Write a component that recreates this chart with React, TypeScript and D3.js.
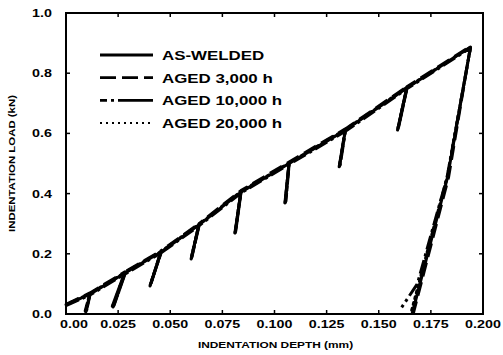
import * as d3 from "d3";

// axis ticks
const xTicks = [0, 0.025, 0.05, 0.075, 0.1, 0.125, 0.15, 0.175, 0.2];
const xTickLabels = ["0.00", "0.025", "0.050", "0.075", "0.100", "0.125", "0.150", "0.175", "0.200"];
const yTicks = [0, 0.2, 0.4, 0.6, 0.8, 1.0];
const yTickLabels = ["0.0", "0.2", "0.4", "0.6", "0.8", "1.0"];

// loading peaks (depth mm, load kN)
const peakDepth = [0.0115, 0.0283, 0.0456, 0.0638, 0.0839, 0.107, 0.134, 0.1635, 0.194];

const asWeldedPeak = [0.066, 0.136, 0.206, 0.296, 0.405, 0.5, 0.611, 0.751, 0.887];
const asWeldedValleyDepth = [0.0095, 0.0226, 0.0403, 0.06, 0.081, 0.105, 0.131, 0.159];
const asWeldedValleyLoad = [0.007, 0.023, 0.093, 0.183, 0.269, 0.369, 0.489, 0.611];
const asWeldedFinalDepth = [0.183, 0.166];
const asWeldedFinalLoad = [0.455, 0.0];

const aged3kPeak = [0.07, 0.14, 0.21, 0.3, 0.41, 0.505, 0.615, 0.755, 0.889];
const aged3kValleyDepth = [0.0092, 0.0222, 0.0405, 0.0602, 0.0812, 0.1052, 0.1312, 0.1592];
const aged3kValleyLoad = [0.01, 0.026, 0.095, 0.186, 0.272, 0.372, 0.492, 0.615];
const aged3kFinalDepth = [0.1835, 0.1665];
const aged3kFinalLoad = [0.455, 0.0];

const aged10kPeak = [0.063, 0.133, 0.203, 0.293, 0.402, 0.497, 0.607, 0.748, 0.884];
const aged10kValleyDepth = [0.0098, 0.023, 0.0406, 0.0604, 0.0814, 0.1055, 0.1315, 0.1595];
const aged10kValleyLoad = [0.009, 0.028, 0.1, 0.19, 0.275, 0.375, 0.495, 0.62];
const aged10kFinalDepth = [0.1828, 0.1685, 0.161];
const aged10kFinalLoad = [0.455, 0.1, 0.022];

const aged20kPeak = [0.068, 0.138, 0.208, 0.298, 0.407, 0.502, 0.613, 0.753, 0.886];
const aged20kValleyDepth = [0.0096, 0.0228, 0.0404, 0.0601, 0.0811, 0.1051, 0.1311, 0.1591];
const aged20kValleyLoad = [0.012, 0.03, 0.097, 0.188, 0.27, 0.37, 0.49, 0.613];
const aged20kFinalDepth = [0.1828, 0.1655];
const aged20kFinalLoad = [0.455, 0.005];

const startLoad = [0.03, 0.032, 0.028, 0.031];

const seriesNames = ["AS-WELDED", "AGED 3,000 h", "AGED 10,000 h", "AGED 20,000 h"];
const dashes = ["none", "14 6", "14 4 3 4", "2 4"];

type P = [number, number];

function buildPath(start: number, peaks: number[], vd: number[], vl: number[], fd: number[], fl: number[]): P[] {
  const pts: P[] = [[0, start]];
  peakDepth.forEach((d, i) => {
    pts.push([d, peaks[i]]);
    if (i < vd.length) {
      pts.push([vd[i], vl[i]]);
      pts.push([d, peaks[i]]);
    }
  });
  fd.forEach((d, i) => pts.push([d, fl[i]]));
  return pts;
}

const series: P[][] = [
  buildPath(startLoad[0], asWeldedPeak, asWeldedValleyDepth, asWeldedValleyLoad, asWeldedFinalDepth, asWeldedFinalLoad),
  buildPath(startLoad[1], aged3kPeak, aged3kValleyDepth, aged3kValleyLoad, aged3kFinalDepth, aged3kFinalLoad),
  buildPath(startLoad[2], aged10kPeak, aged10kValleyDepth, aged10kValleyLoad, aged10kFinalDepth, aged10kFinalLoad),
  buildPath(startLoad[3], aged20kPeak, aged20kValleyDepth, aged20kValleyLoad, aged20kFinalDepth, aged20kFinalLoad),
];

const W = 503;
const H = 355;
const m = { left: 66, right: 20, top: 13, bottom: 41 };
const FONT = "'Liberation Sans', Arial, sans-serif";

// wide scanned lettering: stretched horizontally
function T({ x, y, sx = 1.3, anchor = "middle", size = 11, rotate = 0, children }: any) {
  return (
    <g transform={`translate(${x},${y}) rotate(${rotate}) scale(${sx},1)`}>
      <text x={0} y={0} textAnchor={anchor} fontSize={size} fontWeight="bold" fontFamily={FONT} fill="#000">
        {children}
      </text>
    </g>
  );
}

export default function App() {
  const x = d3.scaleLinear().domain([0, 0.2]).range([m.left, W - m.right]);
  const y = d3.scaleLinear().domain([0, 1]).range([H - m.bottom, m.top]);
  const line = d3.line<P>().x(d => x(d[0])).y(d => y(d[1]));
  const y0 = y(0);
  const x0 = x(0);
  const x1 = x(0.2);
  const y1 = y(1);

  return (
    <div style={{ position: "fixed", left: 0, top: 0 }}>
      <svg width={W} height={H} style={{ display: "block", background: "#fff" }}>
        <rect x={0} y={0} width={W} height={H} fill="#fff" />
        {/* frame */}
        <rect x={x0} y={y1} width={x1 - x0} height={y0 - y1} fill="none" stroke="#000" strokeWidth={2} />
        {/* inward ticks */}
        {xTicks.slice(1, -1).map((t, i) => (
          <g key={"xt" + i}>
            <line x1={x(t)} x2={x(t)} y1={y0} y2={y0 - 4} stroke="#000" strokeWidth={1.5} />
            <line x1={x(t)} x2={x(t)} y1={y1} y2={y1 + 4} stroke="#000" strokeWidth={1.5} />
          </g>
        ))}
        {yTicks.slice(1, -1).map((t, i) => (
          <g key={"yt" + i}>
            <line x1={x0} x2={x0 + 4} y1={y(t)} y2={y(t)} stroke="#000" strokeWidth={1.5} />
            <line x1={x1} x2={x1 - 4} y1={y(t)} y2={y(t)} stroke="#000" strokeWidth={1.5} />
          </g>
        ))}
        {/* tick labels */}
        {xTicks.map((t, i) => (
          <T key={"xl" + i} x={x(t) + (i === 0 ? 8 : 0)} y={y0 + 14} size={11}>{xTickLabels[i]}</T>
        ))}
        {yTicks.map((t, i) => (
          <T key={"yl" + i} x={x0 - 14} y={y(t) + 4} anchor="end" size={11}>{yTickLabels[i]}</T>
        ))}
        {/* axis titles */}
        <T x={(x0 + x1) / 2 + 1} y={y0 + 34} size={9.5} sx={1.25}>INDENTATION DEPTH (mm)</T>
        <T x={15} y={(y0 + y1) / 2} size={9.5} sx={1.2} rotate={-90}>INDENTATION LOAD (kN)</T>
        {/* curves */}
        {series.map((s, i) => (
          <path key={"s" + i} d={line(s) ?? ""} fill="none" stroke="#000" strokeWidth={3}
            strokeDasharray={dashes[i]} strokeLinejoin="round" strokeLinecap={i === 3 ? "round" : "butt"} />
        ))}
        {/* legend */}
        {seriesNames.map((n, i) => {
          const ly = 55 + i * 22.7;
          return (
            <g key={"lg" + i}>
              <line x1={100} x2={153} y1={ly} y2={ly} stroke="#000" strokeWidth={i === 3 ? 2 : 2.8}
                strokeDasharray={i === 1 ? "16 6" : i === 2 ? "7 4 3 4 40" : dashes[i]} />
              <T x={162} y={ly + 5} anchor="start" size={13} sx={1.3}>{n}</T>
            </g>
          );
        })}
      </svg>
    </div>
  );
}
